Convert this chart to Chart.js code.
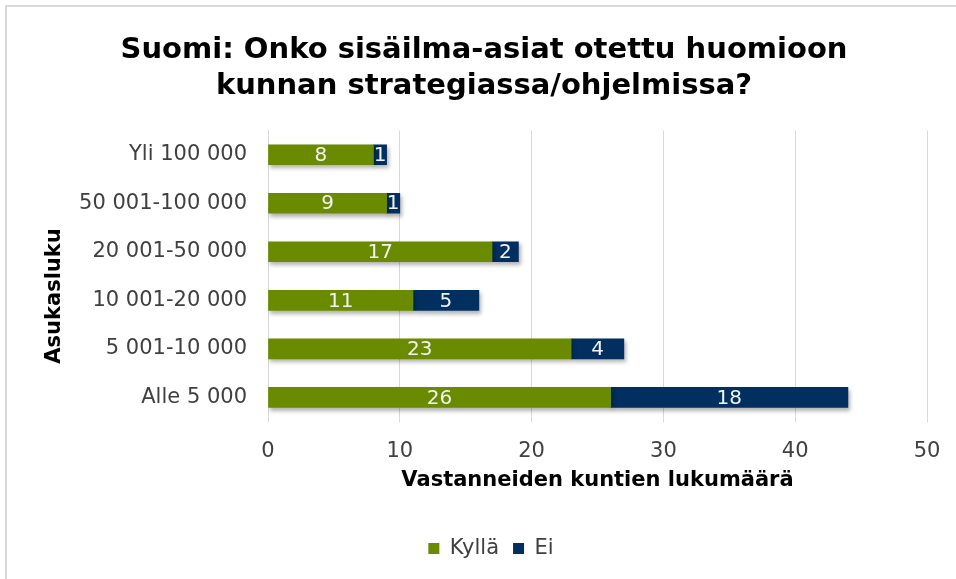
<!DOCTYPE html>
<html>
<head>
<meta charset="utf-8">
<script src="https://cdn.jsdelivr.net/npm/chart.js@4"></script>
<style>
  body { margin: 0; background: #fff; }
  #wrap {
    position: absolute; left: 5px; top: 5px;
    width: 951px; height: 574px;
    border-left: 2px solid #d9d9d9; border-top: 2px solid #d9d9d9;
  }
</style>
</head>
<body>
<div id="wrap"><canvas id="chart"></canvas></div>
<script>
// data
const categories = ['Yli 100 000', '50 001-100 000', '20 001-50 000', '10 001-20 000', '5 001-10 000', 'Alle 5 000'];
const kylla = [8, 9, 17, 11, 23, 26];
const ei = [1, 1, 2, 5, 4, 18];
const yTitle = 'Asukasluku';

const font = 'DejaVu Sans';

// soft drop shadow under the bars, like the original
const barShadow = {
    id: 'barShadow',
    beforeDatasetsDraw(chart) {
        const c = chart.ctx;
        c.save();
        c.shadowColor = 'rgba(0,0,0,0.3)';
        c.shadowBlur = 4;
        c.shadowOffsetX = 2;
        c.shadowOffsetY = 3;
    },
    afterDatasetsDraw(chart) {
        chart.ctx.restore();
    }
};

// value labels in the middle of each segment
const valueLabels = {
    id: 'valueLabels',
    afterDatasetsDraw(chart) {
        const c = chart.ctx;
        c.save();
        c.font = '20px "' + font + '"';
        c.fillStyle = '#f2f2f2';
        c.textAlign = 'center';
        c.textBaseline = 'middle';
        chart.data.datasets.forEach((ds, i) => {
            chart.getDatasetMeta(i).data.forEach((bar, j) => {
                const x = (bar.x + bar.base) / 2;
                c.fillText(String(ds.data[j]), x, bar.y + 1);
            });
        });
        c.restore();
    }
};

// y axis title sits lower than the plot centre in the original, so draw it here
const yAxisTitle = {
    id: 'yAxisTitle',
    afterDraw(chart) {
        const c = chart.ctx;
        c.save();
        c.translate(48, 289);
        c.rotate(-Math.PI / 2);
        c.font = 'bold 21px "' + font + '"';
        c.fillStyle = '#000';
        c.textAlign = 'center';
        c.textBaseline = 'middle';
        c.fillText(yTitle, 0, 0);
        c.restore();
    }
};

// title and legend sit a bit right of centre in the original
const nudge = {
    id: 'nudge',
    afterLayout(chart) {
        chart.titleBlock.left += 17; chart.titleBlock.right += 17;
        chart.legend.left += 24; chart.legend.right += 24;
    }
};

const ctx = document.getElementById('chart').getContext('2d');
new Chart(ctx, {
    type: 'bar',
    data: {
        labels: categories,
        datasets: [
            { label: 'Kyllä', data: kylla, backgroundColor: '#6a8a00', barThickness: 20 },
            { label: 'Ei', data: ei, backgroundColor: '#002f60', barThickness: 20 }
        ]
    },
    options: {
        indexAxis: 'y',
        responsive: true,
        maintainAspectRatio: false,
        animation: false,
        layout: { padding: { left: 0, right: 31, top: 0, bottom: 12 } },
        scales: {
            x: {
                stacked: true,
                min: 0, max: 50,
                ticks: { stepSize: 10, color: '#404040', padding: 17, font: { family: font, size: 21 } },
                grid: { color: '#d9d9d9', drawTicks: false },
                border: { display: false },
                title: {
                    display: true, text: 'Vastanneiden kuntien lukumäärä', color: '#000',
                    font: { family: font, size: 21, weight: 'bold' }, padding: { top: -13, bottom: 31 }
                }
            },
            y: {
                stacked: true,
                ticks: { color: '#404040', padding: 21, font: { family: font, size: 21 } },
                grid: { display: false, drawTicks: false },
                border: { display: true, color: '#d9d9d9' },
                afterFit(scale) { scale.width = 261; }
            }
        },
        plugins: {
            title: {
                display: true,
                text: ['Suomi: Onko sisäilma-asiat otettu huomioon', 'kunnan strategiassa/ohjelmissa?'],
                color: '#000',
                font: { family: font, size: 29, weight: 'bold', lineHeight: 1.25 },
                padding: { top: 25, bottom: 26 }
            },
            legend: {
                position: 'bottom',
                labels: { color: '#404040', boxWidth: 11, boxHeight: 11, padding: 14, font: { family: font, size: 21 } }
            },
            tooltip: { enabled: false }
        }
    },
    plugins: [barShadow, valueLabels, yAxisTitle, nudge]
});
</script>
</body>
</html>
